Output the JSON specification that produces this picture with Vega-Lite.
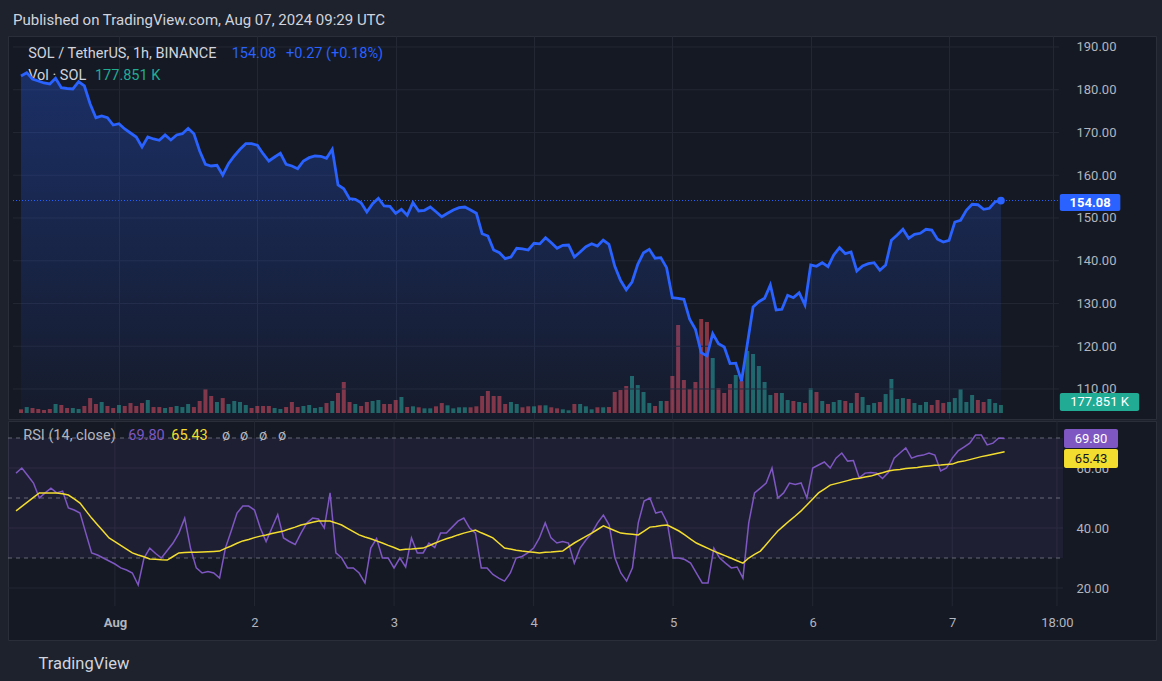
{
"$schema":"https://vega.github.io/schema/vega-lite/v6.json",
"background":"#1e222d",
"padding":{"left":7,"top":12,"right":7,"bottom":14},
"title":{"text":"Published on TradingView.com, Aug 07, 2024 09:29 UTC","anchor":"start","dx":6,"offset":8,"fontSize":15,"fontWeight":"normal","color":"#d1d4dc","font":"Roboto","baseline":"top"},
"config":{"font":"Roboto","view":{"stroke":"#2a2e39","fill":"#151924"},"axis":{"labelColor":"#b2b5be","labelFontSize":13,"labelFont":"Roboto","gridColor":"#232733","domain":false,"ticks":false}},
"spacing":0,
"resolve":{"scale":{"y":"independent","x":"independent","color":"independent"}},
"datasets":{
"bars":[
{"t":"2024-07-31T07:00:00Z","c":183.22,"v":82,"d":"d","r":58.3,"m":45.7},
{"t":"2024-07-31T08:00:00Z","c":183.99,"v":133,"d":"u","r":60,"m":47.2},
{"t":"2024-07-31T09:00:00Z","c":182.51,"v":111,"d":"d","r":57.5,"m":48.7},
{"t":"2024-07-31T10:00:00Z","c":182.05,"v":89,"d":"d","r":55,"m":50.2},
{"t":"2024-07-31T11:00:00Z","c":181.58,"v":67,"d":"d","r":50,"m":51.7},
{"t":"2024-07-31T12:00:00Z","c":181.35,"v":89,"d":"d","r":51.7,"m":51.7},
{"t":"2024-07-31T13:00:00Z","c":182.68,"v":200,"d":"u","r":53.3,"m":51.7},
{"t":"2024-07-31T14:00:00Z","c":180.48,"v":178,"d":"d","r":51.7,"m":51.7},
{"t":"2024-07-31T15:00:00Z","c":180.29,"v":111,"d":"d","r":52.3,"m":51.4},
{"t":"2024-07-31T16:00:00Z","c":180.18,"v":111,"d":"u","r":46.7,"m":51},
{"t":"2024-07-31T17:00:00Z","c":181.88,"v":89,"d":"u","r":46,"m":49.7},
{"t":"2024-07-31T18:00:00Z","c":180.88,"v":156,"d":"d","r":45,"m":48.3},
{"t":"2024-07-31T19:00:00Z","c":176.67,"v":333,"d":"d","r":38.3,"m":45.8},
{"t":"2024-07-31T20:00:00Z","c":173.46,"v":200,"d":"d","r":31.7,"m":43.3},
{"t":"2024-07-31T21:00:00Z","c":173.86,"v":245,"d":"u","r":31,"m":41.1},
{"t":"2024-07-31T22:00:00Z","c":173.46,"v":156,"d":"d","r":30,"m":38.9},
{"t":"2024-07-31T23:00:00Z","c":171.75,"v":111,"d":"d","r":29,"m":36.7},
{"t":"2024-08-01T00:00:00Z","c":172.06,"v":178,"d":"u","r":28,"m":35.5},
{"t":"2024-08-01T01:00:00Z","c":170.82,"v":156,"d":"d","r":26.7,"m":34.2},
{"t":"2024-08-01T02:00:00Z","c":169.88,"v":222,"d":"d","r":26,"m":33},
{"t":"2024-08-01T03:00:00Z","c":168.95,"v":156,"d":"d","r":25,"m":31.7},
{"t":"2024-08-01T04:00:00Z","c":166.61,"v":222,"d":"d","r":21,"m":31},
{"t":"2024-08-01T05:00:00Z","c":168.95,"v":289,"d":"u","r":30,"m":30.4},
{"t":"2024-08-01T06:00:00Z","c":168.48,"v":133,"d":"d","r":33.3,"m":29.7},
{"t":"2024-08-01T07:00:00Z","c":168.18,"v":133,"d":"d","r":31.5,"m":29.6},
{"t":"2024-08-01T08:00:00Z","c":169.42,"v":111,"d":"u","r":30,"m":29.4},
{"t":"2024-08-01T09:00:00Z","c":168.25,"v":133,"d":"d","r":32.5,"m":29.3},
{"t":"2024-08-01T10:00:00Z","c":169.42,"v":156,"d":"u","r":35,"m":30.5},
{"t":"2024-08-01T11:00:00Z","c":169.72,"v":133,"d":"u","r":38.3,"m":31.7},
{"t":"2024-08-01T12:00:00Z","c":170.98,"v":200,"d":"u","r":43.3,"m":31.8},
{"t":"2024-08-01T13:00:00Z","c":169.72,"v":133,"d":"d","r":33.3,"m":31.9},
{"t":"2024-08-01T14:00:00Z","c":165.67,"v":267,"d":"d","r":26.7,"m":31.9},
{"t":"2024-08-01T15:00:00Z","c":162.56,"v":534,"d":"d","r":25,"m":32},
{"t":"2024-08-01T16:00:00Z","c":162.16,"v":378,"d":"d","r":25.5,"m":32.1},
{"t":"2024-08-01T17:00:00Z","c":162.33,"v":245,"d":"u","r":25,"m":32.2},
{"t":"2024-08-01T18:00:00Z","c":160.06,"v":333,"d":"d","r":23.3,"m":32.3},
{"t":"2024-08-01T19:00:00Z","c":162.70,"v":200,"d":"u","r":33.3,"m":33.2},
{"t":"2024-08-01T20:00:00Z","c":164.50,"v":267,"d":"u","r":39,"m":34},
{"t":"2024-08-01T21:00:00Z","c":166.07,"v":245,"d":"u","r":45,"m":34.9},
{"t":"2024-08-01T22:00:00Z","c":167.38,"v":178,"d":"u","r":47.3,"m":35.7},
{"t":"2024-08-01T23:00:00Z","c":167.38,"v":111,"d":"d","r":47.3,"m":36.2},
{"t":"2024-08-02T00:00:00Z","c":167.01,"v":156,"d":"d","r":46,"m":36.8},
{"t":"2024-08-02T01:00:00Z","c":165.04,"v":156,"d":"d","r":40,"m":37.3},
{"t":"2024-08-02T02:00:00Z","c":163.33,"v":156,"d":"d","r":35.5,"m":37.7},
{"t":"2024-08-02T03:00:00Z","c":164.27,"v":111,"d":"u","r":40,"m":38.2},
{"t":"2024-08-02T04:00:00Z","c":165.13,"v":89,"d":"u","r":44.5,"m":38.6},
{"t":"2024-08-02T05:00:00Z","c":162.56,"v":133,"d":"d","r":36.7,"m":39},
{"t":"2024-08-02T06:00:00Z","c":162.16,"v":245,"d":"d","r":35.5,"m":39.7},
{"t":"2024-08-02T07:00:00Z","c":161.53,"v":133,"d":"d","r":34.5,"m":40.3},
{"t":"2024-08-02T08:00:00Z","c":163.33,"v":156,"d":"u","r":38.3,"m":41},
{"t":"2024-08-02T09:00:00Z","c":164.11,"v":178,"d":"u","r":41.7,"m":41.4},
{"t":"2024-08-02T10:00:00Z","c":164.50,"v":111,"d":"u","r":43.3,"m":41.9},
{"t":"2024-08-02T11:00:00Z","c":164.43,"v":133,"d":"u","r":43,"m":42.3},
{"t":"2024-08-02T12:00:00Z","c":163.96,"v":222,"d":"d","r":40,"m":42.3},
{"t":"2024-08-02T13:00:00Z","c":166.07,"v":267,"d":"u","r":51.7,"m":42.3},
{"t":"2024-08-02T14:00:00Z","c":157.72,"v":445,"d":"d","r":31.7,"m":41.7},
{"t":"2024-08-02T15:00:00Z","c":156.85,"v":689,"d":"d","r":30,"m":41},
{"t":"2024-08-02T16:00:00Z","c":154.51,"v":245,"d":"d","r":26.7,"m":39.9},
{"t":"2024-08-02T17:00:00Z","c":154.37,"v":200,"d":"u","r":26.7,"m":38.8},
{"t":"2024-08-02T18:00:00Z","c":153.58,"v":156,"d":"d","r":25,"m":37.7},
{"t":"2024-08-02T19:00:00Z","c":151.40,"v":245,"d":"d","r":21.7,"m":37},
{"t":"2024-08-02T20:00:00Z","c":153.35,"v":267,"d":"u","r":33.3,"m":36.4},
{"t":"2024-08-02T21:00:00Z","c":154.61,"v":289,"d":"u","r":36.5,"m":35.7},
{"t":"2024-08-02T22:00:00Z","c":152.81,"v":200,"d":"d","r":30,"m":35},
{"t":"2024-08-02T23:00:00Z","c":152.74,"v":200,"d":"d","r":30,"m":34.2},
{"t":"2024-08-03T00:00:00Z","c":151.10,"v":289,"d":"d","r":26.7,"m":33.5},
{"t":"2024-08-03T01:00:00Z","c":152.04,"v":356,"d":"u","r":30,"m":32.7},
{"t":"2024-08-03T02:00:00Z","c":150.63,"v":133,"d":"d","r":27,"m":32.9},
{"t":"2024-08-03T03:00:00Z","c":153.58,"v":149,"d":"u","r":36.7,"m":33},
{"t":"2024-08-03T04:00:00Z","c":151.64,"v":127,"d":"d","r":31.7,"m":33.2},
{"t":"2024-08-03T05:00:00Z","c":151.80,"v":104,"d":"u","r":31.7,"m":33.3},
{"t":"2024-08-03T06:00:00Z","c":152.57,"v":104,"d":"u","r":35,"m":34.1},
{"t":"2024-08-03T07:00:00Z","c":151.47,"v":149,"d":"d","r":33.5,"m":34.9},
{"t":"2024-08-03T08:00:00Z","c":150.30,"v":222,"d":"d","r":38.3,"m":35.7},
{"t":"2024-08-03T09:00:00Z","c":151.10,"v":171,"d":"u","r":38.3,"m":36.4},
{"t":"2024-08-03T10:00:00Z","c":151.87,"v":104,"d":"u","r":40.3,"m":37},
{"t":"2024-08-03T11:00:00Z","c":152.41,"v":127,"d":"u","r":42.3,"m":37.7},
{"t":"2024-08-03T12:00:00Z","c":152.57,"v":127,"d":"u","r":43.3,"m":38.3},
{"t":"2024-08-03T13:00:00Z","c":151.87,"v":127,"d":"d","r":40,"m":38.8},
{"t":"2024-08-03T14:00:00Z","c":151.10,"v":149,"d":"d","r":38.3,"m":39.3},
{"t":"2024-08-03T15:00:00Z","c":146.33,"v":378,"d":"d","r":26.7,"m":38.4},
{"t":"2024-08-03T16:00:00Z","c":145.79,"v":489,"d":"d","r":26.7,"m":37.6},
{"t":"2024-08-03T17:00:00Z","c":142.51,"v":378,"d":"d","r":24.5,"m":36.7},
{"t":"2024-08-03T18:00:00Z","c":141.88,"v":378,"d":"d","r":23.3,"m":35},
{"t":"2024-08-03T19:00:00Z","c":140.48,"v":200,"d":"d","r":22.3,"m":33.3},
{"t":"2024-08-03T20:00:00Z","c":140.88,"v":245,"d":"u","r":25,"m":33},
{"t":"2024-08-03T21:00:00Z","c":142.91,"v":200,"d":"u","r":30,"m":32.6},
{"t":"2024-08-03T22:00:00Z","c":142.80,"v":127,"d":"d","r":30.5,"m":32.3},
{"t":"2024-08-03T23:00:00Z","c":142.51,"v":149,"d":"d","r":31.7,"m":32.1},
{"t":"2024-08-04T00:00:00Z","c":144.08,"v":149,"d":"u","r":33.3,"m":31.9},
{"t":"2024-08-04T01:00:00Z","c":143.95,"v":171,"d":"d","r":36.7,"m":31.7},
{"t":"2024-08-04T02:00:00Z","c":145.39,"v":171,"d":"u","r":41.7,"m":31.9},
{"t":"2024-08-04T03:00:00Z","c":144.22,"v":127,"d":"d","r":36.7,"m":32},
{"t":"2024-08-04T04:00:00Z","c":142.91,"v":104,"d":"d","r":35,"m":32.2},
{"t":"2024-08-04T05:00:00Z","c":143.61,"v":82,"d":"u","r":35.5,"m":32.3},
{"t":"2024-08-04T06:00:00Z","c":143.68,"v":60,"d":"u","r":35,"m":33.7},
{"t":"2024-08-04T07:00:00Z","c":140.88,"v":200,"d":"d","r":28.3,"m":35},
{"t":"2024-08-04T08:00:00Z","c":142.05,"v":200,"d":"u","r":33.3,"m":36.1},
{"t":"2024-08-04T09:00:00Z","c":143.29,"v":149,"d":"u","r":36,"m":37.2},
{"t":"2024-08-04T10:00:00Z","c":143.99,"v":82,"d":"u","r":38.3,"m":38.3},
{"t":"2024-08-04T11:00:00Z","c":143.45,"v":127,"d":"d","r":41.7,"m":39.5},
{"t":"2024-08-04T12:00:00Z","c":144.85,"v":127,"d":"u","r":44.3,"m":40.7},
{"t":"2024-08-04T13:00:00Z","c":143.85,"v":133,"d":"d","r":41,"m":39.9},
{"t":"2024-08-04T14:00:00Z","c":138.77,"v":467,"d":"d","r":30,"m":39.1},
{"t":"2024-08-04T15:00:00Z","c":135.43,"v":511,"d":"d","r":25,"m":38.3},
{"t":"2024-08-04T16:00:00Z","c":133.23,"v":600,"d":"d","r":22.3,"m":38.1},
{"t":"2024-08-04T17:00:00Z","c":135.03,"v":823,"d":"u","r":26.7,"m":37.9},
{"t":"2024-08-04T18:00:00Z","c":139.17,"v":622,"d":"u","r":41.7,"m":37.7},
{"t":"2024-08-04T19:00:00Z","c":141.88,"v":467,"d":"u","r":49,"m":39},
{"t":"2024-08-04T20:00:00Z","c":142.68,"v":222,"d":"u","r":50,"m":40.3},
{"t":"2024-08-04T21:00:00Z","c":140.58,"v":156,"d":"d","r":45,"m":40.5},
{"t":"2024-08-04T22:00:00Z","c":140.72,"v":267,"d":"u","r":45.5,"m":40.8},
{"t":"2024-08-04T23:00:00Z","c":138.38,"v":267,"d":"d","r":41.7,"m":41},
{"t":"2024-08-05T00:00:00Z","c":131.36,"v":823,"d":"d","r":30,"m":40},
{"t":"2024-08-05T01:00:00Z","c":131.22,"v":1956,"d":"d","r":30,"m":39},
{"t":"2024-08-05T02:00:00Z","c":130.98,"v":734,"d":"d","r":29.5,"m":37.7},
{"t":"2024-08-05T03:00:00Z","c":126.30,"v":534,"d":"d","r":28.3,"m":36.3},
{"t":"2024-08-05T04:00:00Z","c":123.97,"v":689,"d":"d","r":25,"m":35},
{"t":"2024-08-05T05:00:00Z","c":118.49,"v":2090,"d":"d","r":21.7,"m":34.1},
{"t":"2024-08-05T06:00:00Z","c":117.72,"v":2023,"d":"d","r":21.7,"m":33.2},
{"t":"2024-08-05T07:00:00Z","c":122.94,"v":1223,"d":"u","r":33.3,"m":32.3},
{"t":"2024-08-05T08:00:00Z","c":120.60,"v":556,"d":"d","r":30,"m":31.5},
{"t":"2024-08-05T09:00:00Z","c":119.82,"v":445,"d":"d","r":28.3,"m":30.7},
{"t":"2024-08-05T10:00:00Z","c":115.95,"v":645,"d":"d","r":26.7,"m":29.9},
{"t":"2024-08-05T11:00:00Z","c":116.05,"v":845,"d":"u","r":27,"m":29.1},
{"t":"2024-08-05T12:00:00Z","c":111.87,"v":711,"d":"d","r":23.3,"m":28.3},
{"t":"2024-08-05T13:00:00Z","c":120.46,"v":1378,"d":"u","r":41.7,"m":30},
{"t":"2024-08-05T14:00:00Z","c":129.18,"v":1312,"d":"u","r":51.7,"m":31.2},
{"t":"2024-08-05T15:00:00Z","c":130.42,"v":1045,"d":"u","r":53.3,"m":32.3},
{"t":"2024-08-05T16:00:00Z","c":131.22,"v":689,"d":"u","r":55,"m":34.5},
{"t":"2024-08-05T17:00:00Z","c":134.33,"v":400,"d":"u","r":60,"m":36.8},
{"t":"2024-08-05T18:00:00Z","c":128.48,"v":445,"d":"d","r":50,"m":39},
{"t":"2024-08-05T19:00:00Z","c":128.64,"v":445,"d":"u","r":51.7,"m":40.7},
{"t":"2024-08-05T20:00:00Z","c":131.92,"v":289,"d":"u","r":55,"m":42.4},
{"t":"2024-08-05T21:00:00Z","c":131.36,"v":267,"d":"d","r":54.5,"m":44},
{"t":"2024-08-05T22:00:00Z","c":132.53,"v":245,"d":"u","r":55,"m":45.7},
{"t":"2024-08-05T23:00:00Z","c":129.65,"v":222,"d":"d","r":50,"m":47.7},
{"t":"2024-08-06T00:00:00Z","c":139.01,"v":556,"d":"u","r":60,"m":49.7},
{"t":"2024-08-06T01:00:00Z","c":138.70,"v":467,"d":"d","r":61,"m":51.7},
{"t":"2024-08-06T02:00:00Z","c":139.54,"v":267,"d":"u","r":62,"m":53},
{"t":"2024-08-06T03:00:00Z","c":138.61,"v":200,"d":"d","r":60,"m":54.3},
{"t":"2024-08-06T04:00:00Z","c":141.35,"v":245,"d":"u","r":63.3,"m":54.8},
{"t":"2024-08-06T05:00:00Z","c":143.05,"v":289,"d":"u","r":65,"m":55.3},
{"t":"2024-08-06T06:00:00Z","c":141.65,"v":267,"d":"d","r":62.3,"m":55.8},
{"t":"2024-08-06T07:00:00Z","c":142.05,"v":222,"d":"u","r":62.5,"m":56.3},
{"t":"2024-08-06T08:00:00Z","c":137.60,"v":445,"d":"d","r":56.7,"m":56.6},
{"t":"2024-08-06T09:00:00Z","c":138.77,"v":356,"d":"u","r":58.3,"m":57},
{"t":"2024-08-06T10:00:00Z","c":139.31,"v":178,"d":"u","r":58.5,"m":57.3},
{"t":"2024-08-06T11:00:00Z","c":139.54,"v":222,"d":"u","r":58.3,"m":57.9},
{"t":"2024-08-06T12:00:00Z","c":137.77,"v":245,"d":"d","r":56.5,"m":58.4},
{"t":"2024-08-06T13:00:00Z","c":139.01,"v":422,"d":"u","r":58.5,"m":59},
{"t":"2024-08-06T14:00:00Z","c":144.78,"v":756,"d":"u","r":63.3,"m":59.3},
{"t":"2024-08-06T15:00:00Z","c":146.02,"v":311,"d":"u","r":65,"m":59.5},
{"t":"2024-08-06T16:00:00Z","c":147.36,"v":333,"d":"u","r":66.7,"m":59.8},
{"t":"2024-08-06T17:00:00Z","c":145.25,"v":311,"d":"d","r":63.3,"m":60},
{"t":"2024-08-06T18:00:00Z","c":146.19,"v":222,"d":"u","r":64,"m":60.2},
{"t":"2024-08-06T19:00:00Z","c":146.42,"v":178,"d":"u","r":64.3,"m":60.5},
{"t":"2024-08-06T20:00:00Z","c":147.36,"v":245,"d":"u","r":65,"m":60.7},
{"t":"2024-08-06T21:00:00Z","c":147.19,"v":178,"d":"d","r":64.3,"m":60.9},
{"t":"2024-08-06T22:00:00Z","c":145.02,"v":289,"d":"d","r":59,"m":61},
{"t":"2024-08-06T23:00:00Z","c":144.39,"v":222,"d":"d","r":60,"m":61.2},
{"t":"2024-08-07T00:00:00Z","c":144.78,"v":245,"d":"u","r":63.3,"m":61.3},
{"t":"2024-08-07T01:00:00Z","c":149.06,"v":333,"d":"u","r":65.7,"m":62},
{"t":"2024-08-07T02:00:00Z","c":149.46,"v":534,"d":"u","r":67,"m":62.3},
{"t":"2024-08-07T03:00:00Z","c":151.80,"v":245,"d":"u","r":68.3,"m":62.8},
{"t":"2024-08-07T04:00:00Z","c":153.20,"v":400,"d":"u","r":71,"m":63.3},
{"t":"2024-08-07T05:00:00Z","c":153.10,"v":289,"d":"d","r":71,"m":63.8},
{"t":"2024-08-07T06:00:00Z","c":152.04,"v":245,"d":"d","r":67.7,"m":64.2},
{"t":"2024-08-07T07:00:00Z","c":152.27,"v":311,"d":"u","r":68.3,"m":64.6},
{"t":"2024-08-07T08:00:00Z","c":153.81,"v":222,"d":"u","r":70,"m":65},
{"t":"2024-08-07T09:00:00Z","c":154.08,"v":177.851,"d":"u","r":69.8,"m":65.43}
],
"days":[
{"t":"2024-08-01T00:00:00Z"},{"t":"2024-08-02T00:00:00Z"},{"t":"2024-08-03T00:00:00Z"},{"t":"2024-08-04T00:00:00Z"},{"t":"2024-08-05T00:00:00Z"},{"t":"2024-08-06T00:00:00Z"},{"t":"2024-08-07T00:00:00Z"},{"t":"2024-08-07T18:00:00Z"}
],
"pnotes":[
{"t":"2024-07-31T08:15:00Z","p":188.36,"label":"SOL / TetherUS, 1h, BINANCE","k":"name"},
{"t":"2024-08-01T19:33:00Z","p":188.36,"label":"154.08","k":"price"},
{"t":"2024-08-02T04:58:00Z","p":188.36,"label":"+0.27 (+0.18%)","k":"price"},
{"t":"2024-07-31T08:15:00Z","p":183.22,"label":"Vol · SOL","k":"name"},
{"t":"2024-07-31T19:50:00Z","p":183.22,"label":"177.851 K","k":"vol"}
],
"rnotes":[
{"t":"2024-07-31T08:15:00Z","a":70.67,"label":"RSI (14, close)","k":"name"},
{"t":"2024-08-01T02:18:00Z","a":70.67,"label":"69.80","k":"rsi"},
{"t":"2024-08-01T09:42:00Z","a":70.67,"label":"65.43","k":"ma"},
{"t":"2024-08-01T18:26:00Z","a":70.67,"label":"ø","k":"name"},
{"t":"2024-08-01T21:31:00Z","a":70.67,"label":"ø","k":"name"},
{"t":"2024-08-02T00:47:00Z","a":70.67,"label":"ø","k":"name"},
{"t":"2024-08-02T04:04:00Z","a":70.67,"label":"ø","k":"name"}
]
},
"vconcat":[
{
"width":1148,"height":383,
"resolve":{"scale":{"y":"independent"}},
"layer":[
{
"layer":[
{"data":{"name":"bars"},"mark":{"type":"bar","size":4,"opacity":0.5},
"encoding":{
"x":{"field":"t","type":"temporal","title":null,"scale":{"type":"utc","nice":false,"domain":[{"year":2024,"month":7,"date":31,"hours":5,"minutes":37,"utc":true},{"year":2024,"month":8,"date":8,"hours":11,"minutes":2,"utc":true}]},"axis":{"title":null,"values":[{"year":2024,"month":8,"date":1,"utc":true},{"year":2024,"month":8,"date":2,"utc":true},{"year":2024,"month":8,"date":3,"utc":true},{"year":2024,"month":8,"date":4,"utc":true},{"year":2024,"month":8,"date":5,"utc":true},{"year":2024,"month":8,"date":6,"utc":true},{"year":2024,"month":8,"date":7,"utc":true},{"year":2024,"month":8,"date":7,"hours":18,"utc":true}],"labels":false,"grid":true}},
"y":{"field":"v","type":"quantitative","stack":null,"title":null,"scale":{"domain":[-133,8381],"nice":false,"zero":false},"axis":null},
"fill":{"field":"d","type":"nominal","scale":{"domain":["u","d"],"range":["#2bb5a3","#f7525f"]},"legend":null}}},
{"data":{"values":[{"t":"2024-08-07T19:13:00Z","t2":"2024-08-08T08:59:00Z","v":445,"v2":44}]},"mark":{"type":"rect","color":"#22ab94","cornerRadius":2},
"encoding":{"x":{"field":"t","type":"temporal","title":null},"x2":{"field":"t2"},"y":{"field":"v","type":"quantitative","title":null},"y2":{"field":"v2"}}},
{"data":{"values":[{"t":"2024-08-08T02:06:00Z","v":245,"label":"177.851 K"}]},"mark":{"type":"text","color":"#ffffff","fontSize":13,"baseline":"middle","align":"center"},
"encoding":{"x":{"field":"t","type":"temporal","title":null},"y":{"field":"v","type":"quantitative","title":null},"text":{"field":"label"}}}
]
},
{
"layer":[
{"data":{"values":[{"g":110},{"g":120},{"g":130},{"g":140},{"g":150},{"g":160},{"g":170},{"g":180},{"g":190}]},"mark":{"type":"rule","color":"#232733","strokeWidth":1},
"encoding":{"x":{"datum":{"year":2024,"month":7,"date":31,"hours":5,"minutes":37,"utc":true},"type":"temporal","title":null},"x2":{"datum":{"year":2024,"month":8,"date":7,"hours":19,"minutes":3,"utc":true}},"y":{"field":"g","type":"quantitative","title":null,"scale":{"domain":[102.98,192.57],"nice":false,"zero":false},"axis":{"title":null,"orient":"right","offset":-93,"values":[110,120,130,140,150,160,170,180,190],"format":".2f","grid":false,"labelPadding":13}}}},
{"data":{"name":"bars"},"mark":{"type":"area","color":{"gradient":"linear","x1":0,"y1":0,"x2":0,"y2":1,"stops":[{"offset":0,"color":"rgba(41,98,255,0.30)"},{"offset":1,"color":"rgba(41,98,255,0.03)"}]}},
"encoding":{"x":{"field":"t","type":"temporal","title":null},"y":{"field":"c","type":"quantitative","title":null},"y2":{"datum":102.98}}},
{"data":{"values":[{"p":154.08}]},"mark":{"type":"rule","color":"#2962ff","strokeDash":[1,2],"strokeWidth":1},
"encoding":{"x":{"datum":{"year":2024,"month":7,"date":31,"hours":5,"minutes":37,"utc":true},"type":"temporal","title":null},"x2":{"datum":{"year":2024,"month":8,"date":7,"hours":19,"minutes":3,"utc":true}},"y":{"field":"p","type":"quantitative","title":null}}},
{"data":{"name":"pnotes"},"mark":{"type":"text","fontSize":14.5,"align":"left","baseline":"middle"},
"encoding":{"x":{"field":"t","type":"temporal","title":null},"y":{"field":"p","type":"quantitative","title":null},"text":{"field":"label"},"color":{"field":"k","type":"nominal","scale":{"domain":["name","price","vol"],"range":["#d1d4dc","#2962ff","#22ab94"]},"legend":null}}},
{"data":{"name":"bars"},"mark":{"type":"line","color":"#2962ff","strokeWidth":2.8},"encoding":{"x":{"field":"t","type":"temporal","title":null},"y":{"field":"c","type":"quantitative","title":null}}},
{"data":{"name":"bars"},"transform":[{"filter":"datum.v == 177.851"}],"mark":{"type":"point","filled":true,"color":"#2962ff","size":60,"opacity":1},"encoding":{"x":{"field":"t","type":"temporal","title":null},"y":{"field":"c","type":"quantitative","title":null}}},
{"data":{"values":[{"t":"2024-08-07T19:13:00Z","t2":"2024-08-08T05:43:00Z","p":155.61,"p2":151.64}]},"mark":{"type":"rect","color":"#2962ff","cornerRadius":2},
"encoding":{"x":{"field":"t","type":"temporal","title":null},"x2":{"field":"t2"},"y":{"field":"p","type":"quantitative","title":null},"y2":{"field":"p2"}}},
{"data":{"values":[{"t":"2024-08-08T00:28:00Z","p":153.62,"label":"154.08"}]},"mark":{"type":"text","color":"#ffffff","fontSize":13,"fontWeight":"bold","baseline":"middle","align":"center"},
"encoding":{"x":{"field":"t","type":"temporal","title":null},"y":{"field":"p","type":"quantitative","title":null},"text":{"field":"label"}}}
]
}
]
},
{
"width":1148,"height":219,
"layer":[
{"data":{"name":"days"},"mark":{"type":"rule","color":"#232733","strokeWidth":1},
"encoding":{"x":{"field":"t","type":"temporal","scale":{"type":"utc","nice":false,"domain":[{"year":2024,"month":7,"date":31,"hours":5,"minutes":37,"utc":true},{"year":2024,"month":8,"date":8,"hours":11,"minutes":2,"utc":true}]},"axis":{"values":[{"year":2024,"month":8,"date":1,"utc":true},{"year":2024,"month":8,"date":2,"utc":true},{"year":2024,"month":8,"date":3,"utc":true},{"year":2024,"month":8,"date":4,"utc":true},{"year":2024,"month":8,"date":5,"utc":true},{"year":2024,"month":8,"date":6,"utc":true},{"year":2024,"month":8,"date":7,"utc":true},{"year":2024,"month":8,"date":7,"hours":18,"utc":true}],"grid":false,"offset":-34,"labelPadding":10,"labelExpr":"utchours(datum.value) == 18 ? '18:00' : (utcdate(datum.value) == 1 ? 'Aug' : '' + utcdate(datum.value))","labelFontWeight":{"condition":{"test":"utcdate(datum.value) == 1 && utchours(datum.value) == 0","value":"bold"},"value":"normal"},"title":"TradingView","titleX":30,"titleY":57,"titleAlign":"left","titleBaseline":"middle","titleColor":"#d1d4dc","titleFontSize":16.5,"titleFontWeight":"normal","titleFont":"Roboto"}},
"y":{"datum":14,"type":"quantitative","title":null,"scale":{"domain":[2.67,75.67],"nice":false,"zero":false},"axis":{"title":null,"orient":"right","offset":-93,"values":[20,40,60],"format":".2f","grid":false,"labelPadding":13}},
"y2":{"datum":75.67}}},
{"data":{"values":[{"g":20},{"g":40},{"g":60}]},"mark":{"type":"rule","color":"#232733","strokeWidth":1},
"encoding":{"x":{"datum":{"year":2024,"month":7,"date":31,"hours":5,"minutes":37,"utc":true},"type":"temporal"},"x2":{"datum":{"year":2024,"month":8,"date":7,"hours":19,"minutes":3,"utc":true}},"y":{"field":"g","type":"quantitative","title":null}}},
{"data":{"values":[{"a":70,"b":30}]},"mark":{"type":"rect","color":"#7e57c2","opacity":0.1},
"encoding":{"x":{"datum":{"year":2024,"month":7,"date":31,"hours":5,"minutes":37,"utc":true},"type":"temporal"},"x2":{"datum":{"year":2024,"month":8,"date":7,"hours":19,"minutes":3,"utc":true}},"y":{"field":"a","type":"quantitative","title":null},"y2":{"field":"b"}}},
{"data":{"values":[{"a":70},{"a":50},{"a":30}]},"mark":{"type":"rule","color":"#787b86","strokeDash":[4,4],"strokeWidth":1,"opacity":0.8},
"encoding":{"x":{"datum":{"year":2024,"month":7,"date":31,"hours":5,"minutes":37,"utc":true},"type":"temporal"},"x2":{"datum":{"year":2024,"month":8,"date":7,"hours":19,"minutes":3,"utc":true}},"y":{"field":"a","type":"quantitative","title":null}}},
{"data":{"name":"bars"},"mark":{"type":"line","color":"#7e57c2","strokeWidth":1.5},"encoding":{"x":{"field":"t","type":"temporal"},"y":{"field":"r","type":"quantitative","title":null}}},
{"data":{"name":"bars"},"mark":{"type":"line","color":"#f3dd2e","strokeWidth":1.5},"encoding":{"x":{"field":"t","type":"temporal"},"y":{"field":"m","type":"quantitative","title":null}}},
{"data":{"name":"rnotes"},"mark":{"type":"text","fontSize":14.5,"align":"left","baseline":"middle"},
"encoding":{"x":{"field":"t","type":"temporal"},"y":{"field":"a","type":"quantitative","title":null},"text":{"field":"label"},"color":{"field":"k","type":"nominal","scale":{"domain":["name","rsi","ma"],"range":["#b2b5be","#7e57c2","#f3dd2e"]},"legend":null}}},
{"data":{"values":[{"t":"2024-08-07T19:13:00Z","t2":"2024-08-08T04:30:00Z","a":73,"b":66.67}]},"mark":{"type":"rect","color":"#7e57c2","cornerRadius":2},
"encoding":{"x":{"field":"t","type":"temporal"},"x2":{"field":"t2"},"y":{"field":"a","type":"quantitative","title":null},"y2":{"field":"b"}}},
{"data":{"values":[{"t":"2024-08-07T19:13:00Z","t2":"2024-08-08T04:30:00Z","a":66.33,"b":60}]},"mark":{"type":"rect","color":"#f3dd2e","cornerRadius":2},
"encoding":{"x":{"field":"t","type":"temporal"},"x2":{"field":"t2"},"y":{"field":"a","type":"quantitative","title":null},"y2":{"field":"b"}}},
{"data":{"values":[{"t":"2024-08-07T23:52:00Z","a":69.83,"label":"69.80"}]},"mark":{"type":"text","color":"#ffffff","fontSize":13,"baseline":"middle","align":"center"},
"encoding":{"x":{"field":"t","type":"temporal"},"y":{"field":"a","type":"quantitative","title":null},"text":{"field":"label"}}},
{"data":{"values":[{"t":"2024-08-07T23:52:00Z","a":63.17,"label":"65.43"}]},"mark":{"type":"text","color":"#131722","fontSize":13,"baseline":"middle","align":"center"},
"encoding":{"x":{"field":"t","type":"temporal"},"y":{"field":"a","type":"quantitative","title":null},"text":{"field":"label"}}}
]
}
]
}
